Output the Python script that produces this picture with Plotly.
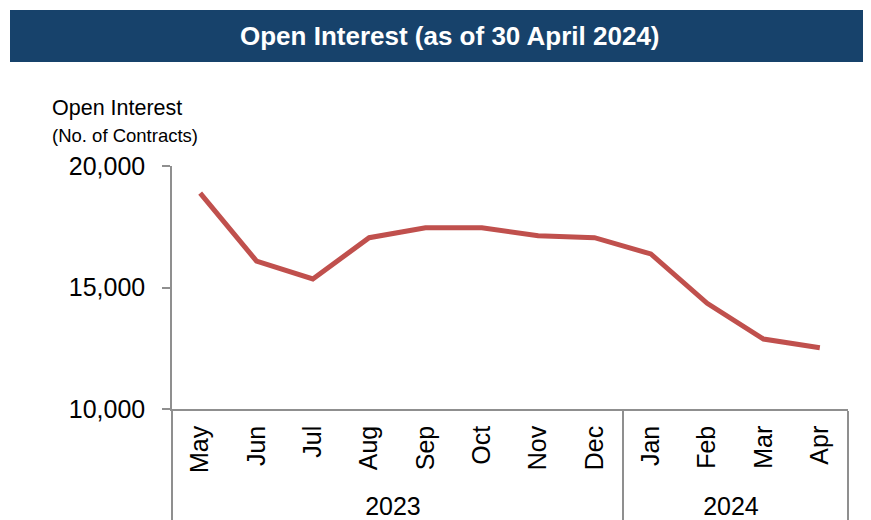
import plotly.graph_objects as go

# ---- data ----
months = ["May", "Jun", "Jul", "Aug", "Sep", "Oct", "Nov", "Dec", "Jan", "Feb", "Mar", "Apr"]
years = ["2023"] * 8 + ["2024"] * 4
open_interest = [18880, 16090, 15350, 17050, 17460, 17460, 17130, 17050, 16380, 14350, 12880, 12520]
y_ticks = [10000, 15000, 20000]

title_text = "Open Interest (as of 30 April 2024)"
ytitle_main = "Open Interest"
ytitle_sub = "(No. of Contracts)"

# the page body has an 8px default margin, so the figure is laid out 8px smaller
OFF = 8
W, H = 871 - OFF, 520 - OFF
L, R, T, B = 172 - OFF, 23, 166 - OFF, 111
pw, ph = W - L - R, H - T - B


def px_x(x):  # x in page pixels -> paper
    return (x - OFF - L) / pw


def px_y(y):  # y in page pixels -> paper
    return (H - B - (y - OFF)) / ph


FONT = "Liberation Sans, Arial, sans-serif"
AXIS_COLOR = "#8F8F8F"

fig = go.Figure()
fig.add_trace(go.Scatter(
    x=[years, months],
    y=open_interest,
    mode="lines",
    line=dict(color="#C0504D", width=5),
    hoverinfo="skip",
))

# title bar
fig.add_shape(type="rect", xref="paper", yref="paper",
              x0=px_x(10), x1=px_x(866), y0=px_y(62), y1=px_y(10),
              fillcolor="#17426B", line=dict(width=0), layer="below")
fig.add_annotation(text="<b>" + title_text + "</b>", xref="paper", yref="paper",
                   x=px_x(450), y=px_y(36), xanchor="center", yanchor="middle",
                   showarrow=False, font=dict(family=FONT, size=26, color="white"))
fig.add_annotation(text=ytitle_main, xref="paper", yref="paper",
                   x=px_x(50), y=px_y(108), xanchor="left", yanchor="middle",
                   showarrow=False, font=dict(family=FONT, size=21.5, color="black"))
fig.add_annotation(text=ytitle_sub, xref="paper", yref="paper",
                   x=px_x(50), y=px_y(135), xanchor="left", yanchor="middle",
                   showarrow=False, font=dict(family=FONT, size=18.5, color="black"))

fig.update_layout(
    width=W, height=H,
    margin=dict(l=L, r=R, t=T, b=B, pad=0, autoexpand=False),
    paper_bgcolor="white", plot_bgcolor="white",
    showlegend=False,
    font=dict(family=FONT, color="black"),
    xaxis=dict(
        type="multicategory",
        range=[-0.5, len(months) - 0.5],
        automargin=False,
        showline=True, linecolor=AXIS_COLOR, linewidth=1.5,
        showgrid=False, zeroline=False,
        ticks="", tickangle=-90,
        tickfont=dict(family=FONT, size=25, color="black"),
        ticklabelstandoff=5,
        showdividers=True, dividercolor=AXIS_COLOR, dividerwidth=1.5,
    ),
    yaxis=dict(
        range=[10000, 20000],
        automargin=False,
        tickvals=y_ticks, tickformat=",",
        showline=True, linecolor=AXIS_COLOR, linewidth=1.5,
        ticks="outside", ticklen=8, tickcolor=AXIS_COLOR, tickwidth=1.5,
        showgrid=False, zeroline=False,
        tickfont=dict(family=FONT, size=25, color="black"),
        ticklabelstandoff=12,
    ),
)

fig.write_html("out.html")
